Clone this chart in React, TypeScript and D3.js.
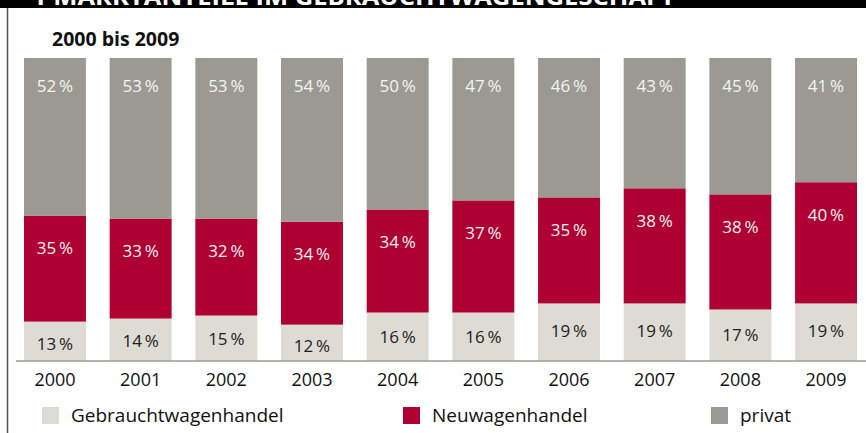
import React from 'react';
import * as d3 from 'd3';

const years = ['2000', '2001', '2002', '2003', '2004', '2005', '2006', '2007', '2008', '2009'];
const gebraucht = [13, 14, 15, 12, 16, 16, 19, 19, 17, 19];
const neuwagen = [35, 33, 32, 34, 34, 37, 35, 38, 38, 40];
const privat = [52, 53, 53, 54, 50, 47, 46, 43, 45, 41];
const seriesNames = ['Gebrauchtwagenhandel', 'Neuwagenhandel', 'privat'];
const colours = ['#dddbd3', '#ae0033', '#9b9a92'];

const W = 866;
const H = 433;
const font = "'Open Sans', 'Noto Sans', sans-serif";

export default function App() {
  const x = d3.scaleBand().domain(years).range([24, 857]).paddingInner(0.277).paddingOuter(0);
  const y = d3.scaleLinear().domain([0, 100]).range([361, 58]);

  const rows = years.map((yr, i) => ({ year: yr, g: gebraucht[i], n: neuwagen[i], p: privat[i] }));
  const stack = d3.stack<any>().keys(['g', 'n', 'p'])(rows);

  const bw = x.bandwidth();
  const legendX = [42, 403, 711];

  return (
    <svg width={W} height={H} style={{ position: 'absolute', left: 0, top: 0, background: '#fff' }}>
      <defs>
        <clipPath id="banner">
          <rect x={0} y={0} width={W} height={8} />
        </clipPath>
      </defs>
      <rect x={0} y={0} width={W} height={8} fill="#000" />
      {/* heading strip is cut at the top edge, like in the source */}
      <g clipPath="url(#banner)">
        <text x={32} y={5} fill="#fff" fontFamily={font} fontWeight={700} fontSize={24}
          textLength={643} lengthAdjust="spacingAndGlyphs">
          1 MARKTANTEILE IM GEBRAUCHTWAGENGESCHÄFT
        </text>
      </g>
      <line x1={7.5} x2={7.5} y1={8} y2={H} stroke="#555" strokeWidth={1.5} />

      <text x={52} y={46} fontFamily={font} fontWeight={700} fontSize={19.5} fill="#111">
        2000 bis 2009
      </text>

      {stack.map((layer, si) => (
        <g key={si}>
          {layer.map((d, i) => {
            const top = y(d[1]);
            const bottom = y(d[0]);
            const h = bottom - top;
            const cx = (x(years[i]) as number) + bw / 2;
            let ly;
            if (si === 0) ly = top + 10 + 0.29 * h + 6.5;
            else if (si === 1) ly = top + 32 + 6.5;
            else ly = top + 27 + 6.5;
            const val = d[1] - d[0];
            return (
              <g key={i}>
                <rect x={x(years[i])} y={top} width={bw} height={h} fill={colours[si]} />
                <text
                  x={cx}
                  y={ly}
                  textAnchor="middle"
                  fontFamily={font}
                  fontSize={17}
                  fill={si === 0 ? '#222' : '#f4f4f0'}
                >
                  {val + '\u2009%'}
                </text>
              </g>
            );
          })}
        </g>
      ))}

      <line x1={16} x2={W} y1={361} y2={361} stroke="#9a9a96" strokeWidth={1.5} />

      {years.map(yr => (
        <text key={yr} x={(x(yr) as number) + bw / 2} y={386} textAnchor="middle" fontFamily={font} fontSize={18} fill="#111">
          {yr}
        </text>
      ))}

      {seriesNames.map((s, i) => (
        <g key={s}>
          <rect x={legendX[i]} y={407} width={17} height={17} fill={colours[i]} />
          <text x={legendX[i] + 29} y={422} fontFamily={font} fontSize={19} fill="#111">
            {s}
          </text>
        </g>
      ))}
    </svg>
  );
}
